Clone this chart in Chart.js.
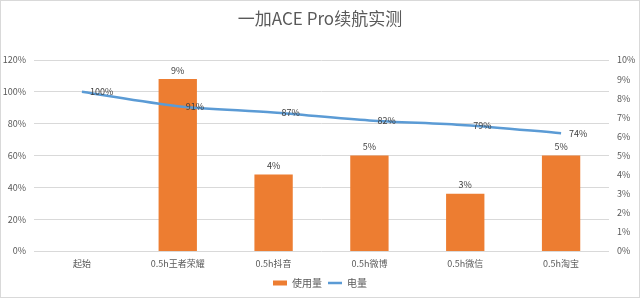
<!DOCTYPE html>
<html>
<head>
<meta charset="utf-8">
<script src="https://cdn.jsdelivr.net/npm/chart.js@4/dist/chart.umd.min.js"></script>
<style>
  html, body { margin: 0; padding: 0; background: #fff; }
  #wrap { position: relative; width: 640px; height: 298px; }
  #frame { position: absolute; left: 0; top: 0; right: 0; bottom: 0; border: 1px solid #d9d9d9; pointer-events: none; }
</style>
</head>
<body>
<div id="wrap"><canvas id="chart"></canvas><div id="frame"></div></div>
<script>
// ── Data ────────────────────────────────────────────────────────────
const categories = ['起始', '0.5h王者荣耀', '0.5h抖音', '0.5h微博', '0.5h微信', '0.5h淘宝'];
const usage = [null, 9, 4, 5, 3, 5];          // 使用量 (right axis, %)
const battery = [100, 91, 87, 82, 79, 74];    // 电量 (left axis, %)
const leftTicks = [0, 20, 40, 60, 80, 100, 120];
const rightTicks = [0, 1, 2, 3, 4, 5, 6, 7, 8, 9, 10];

const FONT = '"Noto Sans CJK SC", "Noto Sans", sans-serif';
const ORANGE = '#ED7D31';
const BLUE = '#5B9BD5';

// ── Data labels (bars above, line to the right) ─────────────────────
const valueLabels = {
  id: 'valueLabels',
  afterDatasetsDraw(chart) {
    const ctx = chart.ctx;
    ctx.save();
    ctx.font = '9px ' + FONT;
    ctx.fillStyle = '#404040';
    ctx.textBaseline = 'middle';
    chart.data.datasets.forEach(function(ds, i) {
      const meta = chart.getDatasetMeta(i);
      meta.data.forEach(function(el, j) {
        const v = ds.data[j];
        if (v == null) return;
        if (ds.type === 'bar') {
          ctx.textAlign = 'center';
          ctx.fillText(v + '%', el.x, el.y - 9);
        } else {
          ctx.textAlign = 'left';
          ctx.fillText(v + '%', el.x + 8, el.y);
        }
      });
    });
    ctx.restore();
  }
};

new Chart(document.getElementById('chart'), {
  data: {
    labels: categories,
    datasets: [
      {
        type: 'line',
        label: '电量',
        data: battery,
        yAxisID: 'y',
        borderColor: BLUE,
        backgroundColor: BLUE,
        borderWidth: 2.5,
        pointRadius: 0,
        pointStyle: 'line',
        tension: 0.3,
        order: 0,
      },
      {
        type: 'bar',
        label: '使用量',
        data: usage,
        yAxisID: 'y2',
        backgroundColor: ORANGE,
        borderWidth: 0,
        pointStyle: 'rect',
        categoryPercentage: 1,
        barPercentage: 0.4,
        order: 1,
      }
    ]
  },
  options: {
    responsive: true,
    maintainAspectRatio: false,
    animation: false,
    layout: { padding: { left: 0, right: 0, top: 0, bottom: 0 } },
    plugins: {
      title: {
        display: true,
        text: '一加ACE Pro续航实测',
        color: '#595959',
        font: { family: FONT, size: 17, weight: 'normal', lineHeight: 1.2 },
        padding: { top: 8, bottom: 31.6 }
      },
      legend: {
        position: 'bottom',
        reverse: true,
        labels: {
          usePointStyle: true,
          pointStyleWidth: 14,
          boxHeight: 5,
          padding: 6,
          color: '#595959',
          font: { family: FONT, size: 10 }
        }
      },
      tooltip: { enabled: false }
    },
    scales: {
      x: {
        grid: { display: false, drawTicks: false },
        border: { display: false },
        ticks: { color: '#595959', font: { family: FONT, size: 9 }, padding: 7, maxRotation: 0 },
        afterFit: function(s) { s.height = 21; }
      },
      y: {
        position: 'left',
        min: 0, max: 120,
        afterBuildTicks: function(s) { s.ticks = leftTicks.map(function(v) { return { value: v }; }); },
        grid: { color: '#d9d9d9', drawTicks: false },
        border: { display: false },
        ticks: { color: '#595959', font: { family: FONT, size: 9 }, padding: 8, callback: function(v) { return v + '%'; } },
        afterFit: function(s) { s.width = 34; }
      },
      y2: {
        position: 'right',
        min: 0, max: 10,
        afterBuildTicks: function(s) { s.ticks = rightTicks.map(function(v) { return { value: v }; }); },
        grid: { display: false, drawTicks: false },
        border: { display: false },
        ticks: { color: '#595959', font: { family: FONT, size: 9 }, padding: 8, callback: function(v) { return v + '%'; } },
        afterFit: function(s) { s.width = 31; }
      }
    }
  },
  plugins: [valueLabels]
});
</script>
</body>
</html>
